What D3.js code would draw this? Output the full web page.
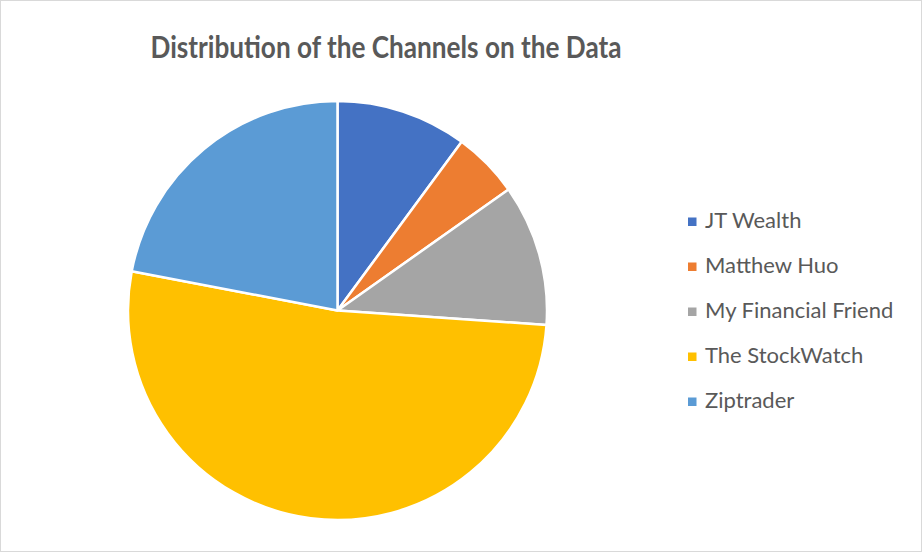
<!DOCTYPE html>
<html>
<head>
<meta charset="utf-8">
<script src="https://cdn.jsdelivr.net/npm/d3@7"></script>
<style>
  html, body { margin: 0; padding: 0; background: #fff; }
</style>
</head>
<body>
<div id="chart"></div>
<script>
// data (share of rows per channel, %)
const channels = ['JT Wealth', 'Matthew Huo', 'My Financial Friend', 'The StockWatch', 'Ziptrader'];
const shares = [10.1, 5.1, 10.9, 51.9, 22.0];
const colors = ['#4472C4', '#ED7D31', '#A5A5A5', '#FFC000', '#5B9BD5'];

const width = 922;
const height = 552;
const cx = 337.5, cy = 310.5, r = 209.5;

const svg = d3.select('#chart')
  .append('svg')
  .attr('width', width)
  .attr('height', height);

// chart area border
svg.append('rect')
  .attr('x', 0.5)
  .attr('y', 0.5)
  .attr('width', width - 1)
  .attr('height', height - 1)
  .attr('fill', '#fff')
  .attr('stroke', '#d9d9d9');

// title, fitted to the original width
svg.append('text')
  .attr('x', 386)
  .attr('y', 58)
  .attr('text-anchor', 'middle')
  .attr('textLength', 471)
  .attr('lengthAdjust', 'spacingAndGlyphs')
  .style('font-family', 'Lato, "Open Sans", sans-serif')
  .style('font-weight', '700')
  .style('font-size', '31px')
  .style('fill', '#595959')
  .text('Distribution of the Channels on the Data');

const pie = d3.pie().sort(null).value(d => d.value);
const arc = d3.arc().innerRadius(0).outerRadius(r);
const color = d3.scaleOrdinal().domain(channels).range(colors);

const data = channels.map((c, i) => ({ name: c, value: shares[i] }));

svg.append('g')
  .attr('transform', `translate(${cx},${cy})`)
  .selectAll('path')
  .data(pie(data))
  .join('path')
  .attr('d', arc)
  .attr('fill', d => color(d.data.name))
  .attr('stroke', '#fff')
  .attr('stroke-width', 2.5)
  .attr('stroke-linejoin', 'round');

// legend
const legendY = d3.scalePoint().domain(channels).range([220, 400]);

const legend = svg.append('g')
  .selectAll('g')
  .data(channels)
  .join('g')
  .attr('transform', d => `translate(688,${legendY(d)})`);

legend.append('rect')
  .attr('x', 0)
  .attr('y', -2.5)
  .attr('width', 8.5)
  .attr('height', 8.5)
  .attr('fill', d => color(d));

legend.append('text')
  .attr('x', 17)
  .attr('y', 7.7)
  .style('font-family', 'Lato, "Open Sans", sans-serif')
  .style('font-size', '22px')
  .style('fill', '#595959')
  .text(d => d);
</script>
</body>
</html>
